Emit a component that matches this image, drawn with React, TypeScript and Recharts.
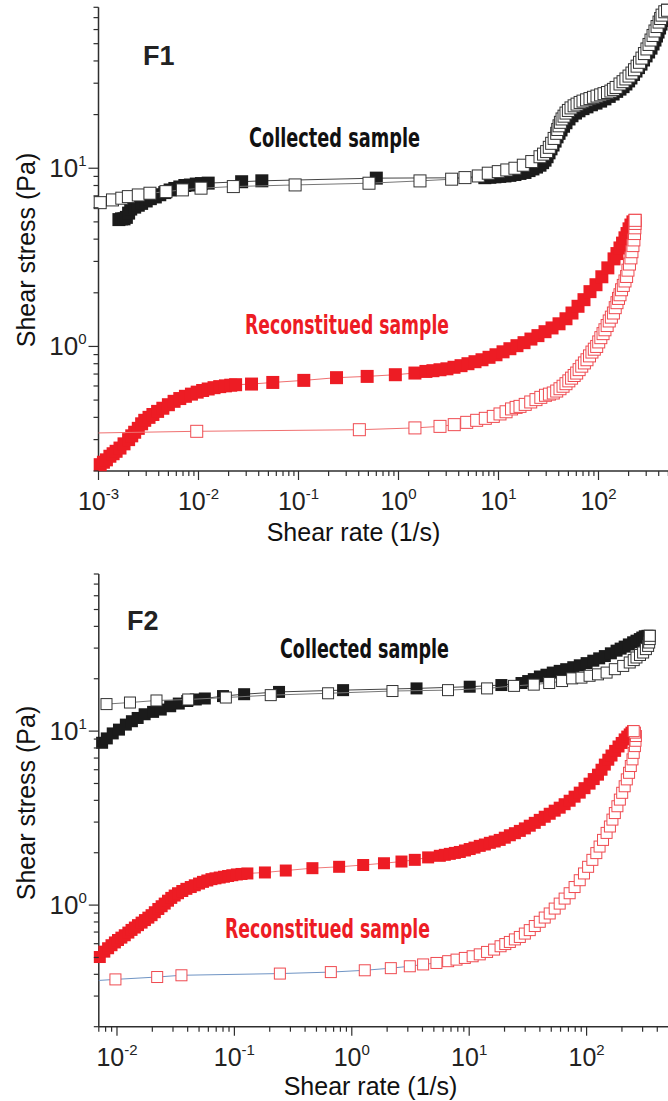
import React from 'react';
import { ScatterChart, Scatter, XAxis, YAxis } from 'recharts';

type Pt = [number, number];

// ---------- tick values ----------
const X1_TICKS = [
  0.001, 0.002, 0.003, 0.004, 0.005, 0.006, 0.007, 0.008, 0.009,
  0.01, 0.02, 0.03, 0.04, 0.05, 0.06, 0.07, 0.08, 0.09,
  0.1, 0.2, 0.3, 0.4, 0.5, 0.6, 0.7, 0.8, 0.9,
  1, 2, 3, 4, 5, 6, 7, 8, 9,
  10, 20, 30, 40, 50, 60, 70, 80, 90,
  100, 200, 300, 400, 500, 600, 700, 800, 900, 1000,
];
const X2_TICKS = [
  0.007, 0.008, 0.009,
  0.01, 0.02, 0.03, 0.04, 0.05, 0.06, 0.07, 0.08, 0.09,
  0.1, 0.2, 0.3, 0.4, 0.5, 0.6, 0.7, 0.8, 0.9,
  1, 2, 3, 4, 5, 6, 7, 8, 9,
  10, 20, 30, 40, 50, 60, 70, 80, 90,
  100, 200, 300, 400, 500, 600, 700, 800, 900, 1000,
];
// major ticks that carry a "10^n" label (10^3 lies outside the picture)
const X_LABELLED = [0.001, 0.01, 0.1, 1, 10, 100];
const Y_TICKS = [
  0.2, 0.3, 0.4, 0.5, 0.6, 0.7, 0.8, 0.9,
  1, 2, 3, 4, 5, 6, 7, 8, 9,
  10, 20, 30, 40, 50, 60, 70, 80,
];
const X1_DOMAIN = [0.001, 1000];
const X2_DOMAIN = [0.007, 1000];
const Y_DOMAIN = [0.2, 80];

// ---------- F1 : collected sample ----------
const p1CollectedUp: Pt[] = [
  [0.0016, 5.15], [0.0017, 5.2], [0.0018, 5.2], [0.0019, 5.3], [0.002, 5.6], [0.0021, 5.9],
  [0.0023, 6.05], [0.0025, 6.2], [0.0027, 6.35], [0.003, 6.55], [0.0033, 6.75], [0.0037, 6.9],
  [0.0041, 7.1], [0.0046, 7.3], [0.0052, 7.55], [0.0058, 7.7], [0.0065, 7.85], [0.0073, 8.0],
  [0.0083, 8.05], [0.0095, 8.15], [0.0107, 8.2], [0.0125, 8.25], [0.027, 8.4], [0.043, 8.5],
  [0.6, 8.8], [7.3, 8.85], [8.2, 8.9], [9.2, 8.95], [10.3, 9.0], [11.6, 9.05], [13, 9.12],
  [14.6, 9.22], [16.4, 9.35], [18.4, 9.47], [20.2, 9.7], [22.1, 9.91], [24, 10.15], [26, 10.4],
  [27.6, 10.75], [29.2, 11.1], [30.6, 11.6], [32, 12.2], [33.5, 12.85], [35.1, 13.5], [36.8, 14.2],
  [38.5, 15.0], [40.3, 15.7], [42.2, 16.4], [44.7, 17.2], [47.3, 18.0], [50.7, 18.9], [54.3, 19.7],
  [58.9, 20.4], [63.8, 21.0], [70, 21.6], [76.7, 22.1], [85, 22.7], [94.4, 23.2], [105, 23.8],
  [116, 24.5], [128, 25.3], [140, 26.1], [152, 27.0], [164, 27.8], [176, 28.7], [188, 29.7],
  [200, 30.9], [211, 32.1], [224, 33.6], [237, 35.1], [251, 36.7], [266, 38.4], [282, 40.5],
  [299, 42.7], [317, 44.9], [335, 47.2], [351, 49.8], [367, 52.4], [380, 55.2], [394, 58.1],
  [408, 61.2], [422, 64.4], [437, 67.4], [452, 70.5], [470, 74], [490, 77],
];
const p1CollectedDown: Pt[] = [
  [0.00104, 6.41], [0.00138, 6.64], [0.00171, 6.79], [0.00199, 6.93], [0.0025, 7.08], [0.00327, 7.24],
  [0.00473, 7.39], [0.0069, 7.56], [0.0106, 7.73], [0.0223, 7.89], [0.0925, 8.06], [0.507, 8.24],
  [1.64, 8.49], [3.4, 8.68], [4.62, 8.86], [6.28, 9.05], [7.9, 9.38], [9.95, 9.57], [12.1, 9.78],
  [14.6, 10.0], [17.7, 10.4], [21.5, 10.9], [26, 11.6], [28.2, 12.0], [30.3, 12.4], [32.2, 13.1],
  [34, 13.8], [36, 14.7], [38.2, 15.7], [39.1, 16.5], [40.3, 17.3], [41.6, 18.1], [43.2, 18.9],
  [45.2, 19.6], [47.3, 20.4], [50, 21.1], [53.1, 21.8], [57, 22.4], [61, 22.9], [65.5, 23.4],
  [70, 23.8], [76, 24.2], [82.2, 24.6], [89, 25.0], [96.6, 25.4], [105, 25.8], [113.5, 26.2],
  [123, 26.6], [133, 27.1], [141, 27.7], [150, 28.4], [164, 29.7], [176, 30.6], [188, 31.7],
  [202, 32.9], [216, 34.2], [229, 35.7], [243, 37.4], [257, 39.3], [272, 41.5], [288, 44.0],
  [305, 46.7], [320, 49.5], [335, 52.4], [351, 55.6], [367, 58.9], [385, 62.4], [403, 66.1],
  [418, 69.2], [432, 72.3], [460, 75.5], [490, 77],
];

// ---------- F1 : reconstitued sample ----------
const p1ReconUp: Pt[] = [
  [0.00104, 0.217], [0.00112, 0.224], [0.0012, 0.231], [0.0013, 0.242], [0.0014, 0.25], [0.0015, 0.258],
  [0.00164, 0.269], [0.0018, 0.284], [0.002, 0.3], [0.00215, 0.315], [0.0023, 0.33], [0.0025, 0.347],
  [0.0027, 0.368], [0.0029, 0.385], [0.0032, 0.4], [0.0035, 0.415], [0.0039, 0.432], [0.0044, 0.45],
  [0.005, 0.471], [0.0057, 0.492], [0.0065, 0.51], [0.0074, 0.525], [0.0085, 0.54], [0.0097, 0.554],
  [0.011, 0.566], [0.0125, 0.577], [0.0143, 0.587], [0.0163, 0.595], [0.0186, 0.601], [0.021, 0.606],
  [0.0235, 0.61], [0.0339, 0.615], [0.0553, 0.628], [0.113, 0.645], [0.24, 0.668], [0.486, 0.679],
  [0.93, 0.694], [1.46, 0.709], [1.88, 0.724], [2.21, 0.731], [2.6, 0.74], [3.05, 0.749], [3.59, 0.764],
  [4.22, 0.78], [4.95, 0.8], [5.82, 0.821], [6.84, 0.842], [8.04, 0.869], [9.44, 0.898], [11.1, 0.933],
  [13, 0.971], [15.3, 1.01], [18, 1.05], [21.1, 1.1], [24.8, 1.15], [29.2, 1.21], [34.3, 1.27],
  [40.3, 1.34], [47.3, 1.43], [54.3, 1.54], [62.4, 1.68], [71.6, 1.83], [82.2, 2.03], [94.4, 2.22],
  [108, 2.46], [124, 2.76], [143, 3.1], [153, 3.32], [164, 3.57], [174, 3.8], [184, 4.07], [193, 4.3],
  [202, 4.57], [211, 4.8], [221, 5.0], [232, 5.1],
];
const p1ReconDownLead: Pt[] = [[0.001, 0.327], [0.0096, 0.334]];
const p1ReconDown: Pt[] = [
  [0.0096, 0.334], [0.406, 0.341], [1.46, 0.349], [2.6, 0.356], [3.61, 0.364], [4.81, 0.375],
  [6.05, 0.385], [7.38, 0.395], [8.87, 0.405], [10.35, 0.418], [11.9, 0.43], [13.5, 0.446],
  [15, 0.455], [16.4, 0.461], [18.5, 0.473], [21, 0.488], [23.7, 0.503], [26.5, 0.518], [29.5, 0.532],
  [32.3, 0.54], [35.3, 0.548], [38.2, 0.562], [41.2, 0.579], [44.2, 0.598], [47.3, 0.618], [50.5, 0.641],
  [53.8, 0.664], [57.1, 0.687], [60.5, 0.709], [64, 0.741], [68, 0.775], [72.3, 0.808], [76.7, 0.842],
  [81.3, 0.885], [86, 0.93], [90.8, 0.965], [95.9, 1.0], [100.5, 1.06], [105.5, 1.12], [111, 1.18],
  [116, 1.24], [122, 1.31], [128, 1.39], [134.5, 1.46], [141, 1.54], [147, 1.65], [153, 1.76],
  [158.5, 1.86], [164, 1.95], [170, 2.08], [177, 2.2], [184, 2.33], [191, 2.47], [197, 2.68],
  [204, 2.9], [211, 3.14], [216, 3.4], [221, 3.68], [226, 3.96], [229, 4.3], [231, 4.63], [232, 4.9],
  [232, 5.1],
];

// ---------- F2 : collected sample ----------
const p2CollectedUp: Pt[] = [
  [0.00747, 8.57], [0.00819, 9.08], [0.0092, 9.7], [0.0104, 10.2], [0.0119, 10.9], [0.0134, 11.4],
  [0.015, 11.9], [0.0172, 12.5], [0.0203, 12.9], [0.0236, 13.3], [0.0284, 13.9], [0.0336, 14.4],
  [0.0397, 14.9], [0.0469, 15.2], [0.056, 15.4], [0.08, 15.9], [0.121, 16.3], [0.24, 16.8],
  [0.843, 17.2], [3.56, 17.6], [10.1, 18.0], [18.8, 18.4], [27.9, 18.9], [31.8, 19.4], [35.5, 19.9],
  [40, 20.6], [45.5, 21.1], [51.5, 21.7], [59, 22.2], [67, 22.7], [77, 23.3], [87.5, 23.9], [100, 24.6],
  [114, 25.4], [128, 26.2], [143, 27.0], [161, 28.0], [180, 29.0], [195, 29.8], [211, 30.6], [229, 31.5],
  [249, 32.4], [266, 33.1], [284, 33.8], [298, 34.5], [313, 35.1], [330, 35.3], [345, 35.3],
];
const p2CollectedDown: Pt[] = [
  [0.00814, 14.3], [0.0129, 14.6], [0.0217, 15.0], [0.0404, 15.2], [0.0846, 15.6], [0.204, 16.1],
  [0.628, 16.5], [2.22, 17.0], [6.6, 17.2], [14.2, 17.6], [24.1, 18.2], [35.5, 18.5], [48, 18.9],
  [61.8, 19.4], [75.3, 20.1], [90.4, 20.3], [106, 20.8], [125, 21.2], [148, 21.7], [174, 22.7],
  [205, 23.7], [233, 24.8], [252, 25.6], [266, 26.5], [285, 27.4], [303, 28.3], [320, 29.6],
  [334, 30.9], [341, 32.3], [345, 33.8], [345, 35.3],
];

// ---------- F2 : reconstitued sample ----------
const p2ReconUp: Pt[] = [
  [0.00714, 0.503], [0.0078, 0.54], [0.0084, 0.565], [0.00898, 0.588], [0.0096, 0.61], [0.0102, 0.63],
  [0.0109, 0.65], [0.01165, 0.671], [0.0125, 0.695], [0.0133, 0.72], [0.0142, 0.743], [0.0151, 0.767],
  [0.0162, 0.793], [0.0173, 0.82], [0.0185, 0.847], [0.0197, 0.875], [0.021, 0.91], [0.0225, 0.95],
  [0.024, 0.985], [0.0255, 1.02], [0.0272, 1.06], [0.029, 1.1], [0.031, 1.135], [0.0331, 1.17],
  [0.036, 1.205], [0.039, 1.24], [0.0425, 1.27], [0.046, 1.3], [0.05, 1.33], [0.054, 1.36],
  [0.0588, 1.385], [0.0638, 1.41], [0.069, 1.425], [0.075, 1.44], [0.0815, 1.455], [0.0884, 1.47],
  [0.096, 1.485], [0.105, 1.5], [0.115, 1.51], [0.129, 1.52], [0.182, 1.54], [0.274, 1.58],
  [0.462, 1.63], [0.78, 1.66], [1.25, 1.7], [1.88, 1.74], [2.65, 1.78], [3.44, 1.82], [4.47, 1.88],
  [5.62, 1.92], [6.2, 1.945], [6.84, 1.97], [7.55, 1.995], [8.32, 2.02], [9.2, 2.06], [10.1, 2.1],
  [11.1, 2.14], [12.3, 2.19], [13.6, 2.23], [15, 2.28], [16.5, 2.32], [18.2, 2.37], [20.1, 2.44],
  [22.2, 2.52], [24.5, 2.59], [27, 2.67], [29.8, 2.76], [32.8, 2.86], [36.2, 2.97], [39.9, 3.09],
  [44, 3.22], [48.5, 3.35], [53.5, 3.49], [59, 3.63], [65, 3.8], [71.7, 3.98], [79, 4.2], [87.4, 4.43],
  [96, 4.7], [106, 4.99], [115, 5.3], [125, 5.62], [134, 6.0], [143, 6.42], [153, 6.85], [163, 7.24],
  [175, 7.7], [187, 8.16], [199, 8.55], [211, 8.96], [222, 9.3], [233, 9.57], [241, 9.8], [249, 10.0],
];
const p2ReconDownLead: Pt[] = [[0.007, 0.369], [0.0097, 0.374]];
const p2ReconDown: Pt[] = [
  [0.0097, 0.374], [0.022, 0.386], [0.0354, 0.395], [0.244, 0.404], [0.663, 0.412], [1.29, 0.422],
  [2.15, 0.434], [3.12, 0.445], [4.05, 0.456], [5.26, 0.465], [6.62, 0.476], [7.8, 0.486],
  [9.18, 0.497], [10.7, 0.508], [12.3, 0.521], [14.2, 0.538], [16.3, 0.555], [18.5, 0.58],
  [20.3, 0.597], [22.2, 0.614], [24.5, 0.635], [27, 0.656], [29.8, 0.686], [32.8, 0.718],
  [36.2, 0.758], [39.9, 0.802], [44, 0.848], [48.5, 0.895], [53.5, 0.955], [59, 1.02], [65, 1.09],
  [71.7, 1.17], [79, 1.27], [87.4, 1.39], [95, 1.52], [103, 1.66], [112, 1.82], [121, 1.99],
  [129, 2.17], [138, 2.37], [148, 2.6], [158, 2.83], [166, 3.1], [174, 3.38], [183, 3.7], [192, 4.04],
  [201, 4.42], [211, 4.82], [220, 5.28], [230, 5.76], [238, 6.3], [246, 6.88], [252, 7.5], [258, 8.2],
  [261, 8.8], [263, 9.37], [258, 9.8], [252, 10.0],
];

// ---------- styling ----------
const AXIS = '#2e2e2e';
const LABEL_FONT = "'Liberation Sans', Arial, sans-serif";
const NOTE_FONT = "'Liberation Sans Narrow', 'DejaVu Sans Condensed', 'Liberation Sans', sans-serif";
const BLACK = '#1b1b1b';
const RED = '#ed1c24';

const toData = (a: Pt[]) => a.map(([x, y]) => ({ x, y }));

const isMajor = (v: number) => {
  const lg = Math.log10(v);
  return Math.abs(lg - Math.round(lg)) < 1e-9;
};
const isLabelled = (v: number) => X_LABELLED.some((t) => Math.abs(Math.log10(t) - Math.log10(v)) < 1e-9);

const renderXTick = (p: any) => {
  const { x, y, payload } = p;
  const v = payload.value as number;
  const major = isMajor(v);
  const e = Math.round(Math.log10(v));
  return (
    <g>
      <line x1={x} x2={x} y1={y} y2={y + (major ? 9 : 5)} stroke={AXIS} strokeWidth={1.2} />
      {major && isLabelled(v) && (
        <text x={x} y={y + 39} textAnchor="middle" fontFamily={LABEL_FONT} fontSize={25} fill="#222">
          10<tspan dy={-11} fontSize={15}>{String(e)}</tspan>
        </text>
      )}
    </g>
  );
};

const renderTopTick = (p: any) => {
  const { x, y, payload } = p;
  const major = isMajor(payload.value as number);
  return <line x1={x} x2={x} y1={y} y2={y + (major ? 4 : 2.5)} stroke={AXIS} strokeWidth={1} />;
};

const renderYTick = (p: any) => {
  const { x, y, payload } = p;
  const v = payload.value as number;
  const major = isMajor(v);
  const e = Math.round(Math.log10(v));
  return (
    <g>
      <line x1={x - (major ? 10 : 5)} x2={x} y1={y} y2={y} stroke={AXIS} strokeWidth={1.2} />
      {major && (
        <text x={x - 12} y={y + 9} textAnchor="end" fontFamily={LABEL_FONT} fontSize={26} fill="#222">
          10<tspan dy={-11} fontSize={15}>{String(e)}</tspan>
        </text>
      )}
    </g>
  );
};

const square = (fill: string, stroke: string, size: number) => (p: any) => {
  if (p == null || p.cx == null || p.cy == null) return <g />;
  return (
    <rect
      x={p.cx - size / 2}
      y={p.cy - size / 2}
      width={size}
      height={size}
      fill={fill}
      stroke={stroke}
      strokeWidth={stroke === 'none' ? 0 : 1}
    />
  );
};
const noMarker = () => <g />;

type SeriesSpec = {
  name: string;
  data: Pt[];
  fill: string;
  stroke: string;
  line: string;
  size: number;
  marker: boolean;
};

const p1Series: SeriesSpec[] = [
  { name: 'p1CollUp', data: p1CollectedUp, fill: BLACK, stroke: 'none', line: '#444', size: 13, marker: true },
  { name: 'p1CollDown', data: p1CollectedDown, fill: '#fff', stroke: '#333', line: '#777', size: 12, marker: true },
  { name: 'p1RecUp', data: p1ReconUp, fill: RED, stroke: 'none', line: '#f07070', size: 13, marker: true },
  { name: 'p1RecLead', data: p1ReconDownLead, fill: 'none', stroke: 'none', line: '#f07070', size: 0, marker: false },
  { name: 'p1RecDown', data: p1ReconDown, fill: '#fff', stroke: '#ef4a50', line: '#f07070', size: 12, marker: true },
];
const p2Series: SeriesSpec[] = [
  { name: 'p2CollUp', data: p2CollectedUp, fill: BLACK, stroke: 'none', line: '#444', size: 12, marker: true },
  { name: 'p2CollDown', data: p2CollectedDown, fill: '#fff', stroke: '#333', line: '#777', size: 11, marker: true },
  { name: 'p2RecUp', data: p2ReconUp, fill: RED, stroke: 'none', line: '#f07a7a', size: 12, marker: true },
  { name: 'p2RecLead', data: p2ReconDownLead, fill: 'none', stroke: 'none', line: '#6f94c4', size: 0, marker: false },
  { name: 'p2RecDown', data: p2ReconDown, fill: '#fff', stroke: '#ef4a50', line: '#6f94c4', size: 11, marker: true },
];

function Panel(props: {
  width: number;
  height: number;
  margin: { top: number; right: number; bottom: number; left: number };
  xDomain: number[];
  xTicks: number[];
  xAxisHeight: number;
  yAxisWidth: number;
  series: SeriesSpec[];
}) {
  const { width, height, margin, xDomain, xTicks, xAxisHeight, yAxisWidth, series } = props;
  return (
    <ScatterChart width={width} height={height} margin={margin}>
      <XAxis
        xAxisId="top"
        orientation="top"
        type="number"
        dataKey="x"
        scale="log"
        domain={xDomain}
        ticks={xTicks}
        interval={0}
        height={0}
        tickSize={0}
        tickMargin={0}
        tickLine={false}
        tick={renderTopTick}
        axisLine={{ stroke: AXIS, strokeWidth: 1.2 }}
      />
      <XAxis
        type="number"
        dataKey="x"
        scale="log"
        domain={xDomain}
        ticks={xTicks}
        interval={0}
        height={xAxisHeight}
        tickSize={0}
        tickMargin={0}
        tickLine={false}
        tick={renderXTick}
        axisLine={{ stroke: AXIS, strokeWidth: 1.5 }}
      />
      <YAxis
        type="number"
        dataKey="y"
        scale="log"
        domain={Y_DOMAIN}
        ticks={Y_TICKS}
        interval={0}
        width={yAxisWidth}
        tickSize={0}
        tickMargin={0}
        tickLine={false}
        tick={renderYTick}
        axisLine={{ stroke: AXIS, strokeWidth: 1.5 }}
      />
      {series.map((s) => (
        <Scatter
          key={s.name}
          name={s.name}
          data={toData(s.data)}
          fill={s.fill}
          line={{ stroke: s.line, strokeWidth: 1 }}
          lineType="joint"
          shape={s.marker ? square(s.fill, s.stroke, s.size) : noMarker}
          isAnimationActive={false}
        />
      ))}
    </ScatterChart>
  );
}

function Note(props: { x: number; y: number; w: number; color: string; children: string }) {
  return (
    <text
      x={props.x}
      y={props.y}
      fontFamily={NOTE_FONT}
      fontWeight="bold"
      fontSize={26}
      fill={props.color}
      textLength={props.w}
      lengthAdjust="spacingAndGlyphs"
    >
      {props.children}
    </text>
  );
}

export default function App() {
  return (
    <div
      style={{
        position: 'absolute',
        left: 0,
        top: 0,
        width: 668,
        height: 1101,
        overflow: 'hidden',
        background: '#ffffff',
      }}
    >
      <div style={{ position: 'absolute', left: 0, top: 0 }}>
        <Panel
          width={720}
          height={560}
          margin={{ top: 7.3, right: 21.5, bottom: 0, left: 0 }}
          xDomain={X1_DOMAIN}
          xTicks={X1_TICKS}
          xAxisHeight={89}
          yAxisWidth={98.5}
          series={p1Series}
        />
      </div>
      <div style={{ position: 'absolute', left: 0, top: 560 }}>
        <Panel
          width={720}
          height={541}
          margin={{ top: 14, right: 16, bottom: 0, left: 0 }}
          xDomain={X2_DOMAIN}
          xTicks={X2_TICKS}
          xAxisHeight={74.3}
          yAxisWidth={98.8}
          series={p2Series}
        />
      </div>
      <svg
        width={668}
        height={1101}
        style={{ position: 'absolute', left: 0, top: 0, pointerEvents: 'none' }}
      >
        <text x={143} y={65} fontFamily={LABEL_FONT} fontWeight="bold" fontSize={27} fill="#222">F1</text>
        <text x={127} y={630} fontFamily={LABEL_FONT} fontWeight="bold" fontSize={27} fill="#222">F2</text>
        <Note x={249} y={147} w={171} color="#111">Collected sample</Note>
        <Note x={245} y={334} w={204} color={RED}>Reconstitued sample</Note>
        <Note x={280} y={658} w={169} color="#111">Collected sample</Note>
        <Note x={225} y={938} w={205} color={RED}>Reconstitued sample</Note>
        <text
          transform="translate(35,250) rotate(-90)"
          textAnchor="middle"
          fontFamily={LABEL_FONT}
          fontSize={25}
          fill="#111"
        >
          Shear stress (Pa)
        </text>
        <text
          transform="translate(35,803) rotate(-90)"
          textAnchor="middle"
          fontFamily={LABEL_FONT}
          fontSize={25}
          fill="#111"
        >
          Shear stress (Pa)
        </text>
        <text x={353.5} y={541} textAnchor="middle" fontFamily={LABEL_FONT} fontSize={25} fill="#111">
          Shear rate (1/s)
        </text>
        <text x={370.5} y={1095} textAnchor="middle" fontFamily={LABEL_FONT} fontSize={25} fill="#111">
          Shear rate (1/s)
        </text>
      </svg>
    </div>
  );
}
